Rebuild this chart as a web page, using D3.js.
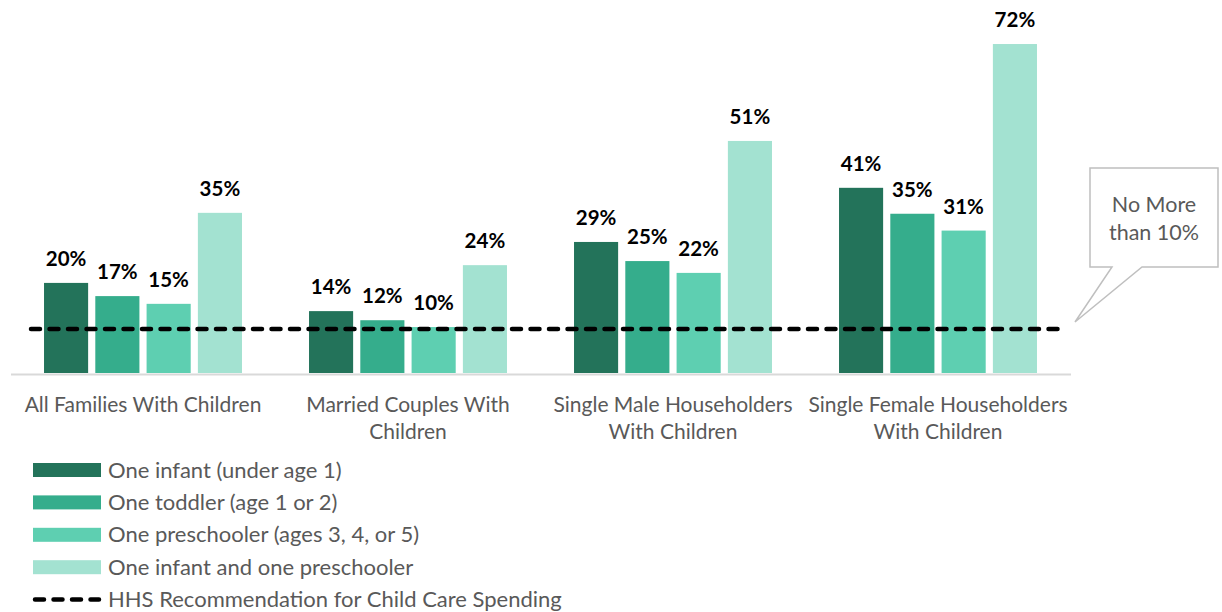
<!DOCTYPE html>
<html>
<head>
<meta charset="utf-8">
<script src="https://cdnjs.cloudflare.com/ajax/libs/d3/7.8.5/d3.min.js"></script>
<style>
  body { margin: 0; background: #fff; }
  svg { display: block; font-family: Lato, "Open Sans", sans-serif; }
</style>
</head>
<body>
<div class="container"></div>
<script>
// categories along the x axis (lines are split for wrapping)
var categories = ["All Families With Children", "Married Couples With Children",
                  "Single Male Householders With Children", "Single Female Householders With Children"];
var categoryLines = [["All Families With Children"],
                     ["Married Couples With", "Children"],
                     ["Single Male Householders", "With Children"],
                     ["Single Female Householders", "With Children"]];

var seriesNames = ["One infant (under age 1)", "One toddler (age 1 or 2)",
                   "One preschooler (ages 3, 4, or 5)", "One infant and one preschooler"];
var seriesColors = ["#23735a", "#35ad8c", "#5ecfb1", "#a3e2d1"];

// share of income spent on child care, per series, in category order
var infant      = [19.8, 13.6, 28.8, 40.7];
var toddler     = [16.9, 11.6, 24.6, 35.0];
var preschooler = [15.2, 10.1, 22.0, 31.3];
var infantPre   = [35.2, 23.7, 51.0, 72.3];
var seriesValues = [infant, toddler, preschooler, infantPre];

var hhsLimit = 10;
var hhsLabel = "HHS Recommendation for Child Care Spending";
var calloutLines = ["No More", "than 10%"];

var W = 1222, H = 612;

function makeStage(w, h) {
  return d3.select(".container").append("svg")
    .attr("width", w)
    .attr("height", h);
}

var svg = makeStage(W, H);

var x0 = d3.scaleBand().domain(categories).range([10.5, 1070.5])
  .paddingInner(0.253).paddingOuter(0.1265);
var x1 = d3.scaleBand().domain(d3.range(seriesNames.length)).range([0, x0.bandwidth()])
  .paddingInner(0.14).paddingOuter(0);
var y = d3.scaleLinear().domain([0, 80]).range([373, 9]);

// bars
var groups = svg.selectAll("g.group")
  .data(categories)
  .enter().append("g")
  .attr("class", "group")
  .attr("transform", function(d) { return "translate(" + x0(d) + ",0)"; });

groups.each(function(cat, ci) {
  var g = d3.select(this);
  var rows = seriesValues.map(function(vals, si) { return {s: si, v: vals[ci]}; });
  g.selectAll("rect").data(rows).enter().append("rect")
    .attr("x", function(d) { return x1(d.s); })
    .attr("y", function(d) { return y(d.v); })
    .attr("width", x1.bandwidth())
    .attr("height", function(d) { return y(0) - y(d.v); })
    .style("fill", function(d) { return seriesColors[d.s]; });
  g.selectAll("text.val").data(rows).enter().append("text")
    .attr("class", "val")
    .attr("x", function(d) { return x1(d.s) + x1.bandwidth() / 2; })
    .attr("y", function(d) { return y(d.v) - 17; })
    .attr("text-anchor", "middle")
    .style("font-size", "20.5px")
    .style("font-weight", "bold")
    .style("fill", "#000")
    .text(function(d) { return Math.round(d.v) + "%"; });
});

// x axis line
var xAxis = svg.append("g")
  .attr("transform", "translate(0," + 374 + ")")
  .call(d3.axisBottom(x0).tickSize(0).tickSizeOuter(0).tickFormat(""));
xAxis.select(".domain").style("stroke", "#d9d9d9").style("stroke-width", 2);

// category labels
categoryLines.forEach(function(lines, i) {
  var t = svg.append("text")
    .attr("x", x0(categories[i]) + x0.bandwidth() / 2)
    .attr("y", 412)
    .attr("text-anchor", "middle")
    .style("font-size", "21px")
    .style("fill", "#595959");
  lines.forEach(function(l, j) {
    t.append("tspan")
      .attr("x", x0(categories[i]) + x0.bandwidth() / 2)
      .attr("dy", j === 0 ? 0 : 27)
      .text(l);
  });
});

// HHS recommendation line
svg.append("line")
  .attr("x1", 31).attr("x2", 1066)
  .attr("y1", y(hhsLimit) + 1.5).attr("y2", y(hhsLimit) + 1.5)
  .style("stroke", "#000")
  .style("stroke-width", 4.5)
  .style("stroke-linecap", "round")
  .style("stroke-dasharray", "9,9.5");

// callout
svg.append("path")
  .attr("d", "M1090,168 L1218,168 L1218,267 L1142,267 L1075,322 L1112,267 L1090,267 Z")
  .style("fill", "#fff")
  .style("stroke", "#bfbfbf")
  .style("stroke-width", 1.5);
calloutLines.forEach(function(l, i) {
  svg.append("text")
    .attr("x", 1154).attr("y", 212 + i * 28)
    .attr("text-anchor", "middle")
    .style("font-size", "21.5px")
    .style("fill", "#595959")
    .text(l);
});

// legend
var legend = svg.append("g");
seriesNames.forEach(function(name, i) {
  var cy = 470 + i * 32.4;
  legend.append("rect")
    .attr("x", 33).attr("y", cy - 7)
    .attr("width", 68).attr("height", 14)
    .style("fill", seriesColors[i]);
  legend.append("text")
    .attr("x", 108).attr("y", cy + 7.5)
    .style("font-size", "22px")
    .style("fill", "#595959")
    .text(name);
});
var ly = 470 + 4 * 32.4;
legend.append("line")
  .attr("x1", 35).attr("x2", 99)
  .attr("y1", ly).attr("y2", ly)
  .style("stroke", "#000")
  .style("stroke-width", 4.5)
  .style("stroke-linecap", "round")
  .style("stroke-dasharray", "9,9.5");
legend.append("text")
  .attr("x", 108).attr("y", ly + 7.5)
  .style("font-size", "22px")
  .style("fill", "#595959")
  .text(hhsLabel);
</script>
</body>
</html>
